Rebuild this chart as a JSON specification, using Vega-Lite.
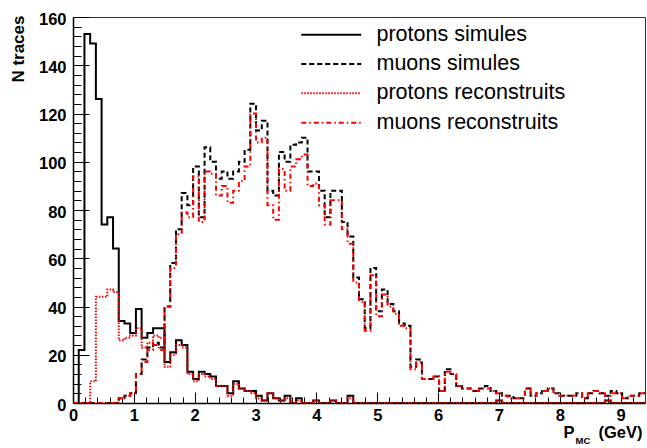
{
 "$schema": "https://vega.github.io/schema/vega-lite/v6.json",
 "width": 572, "height": 386,
 "autosize": {"type": "none"},
 "padding": {"left": 73, "top": 17, "right": 2, "bottom": 45},
 "background": "white",
 "config": {"view": {"stroke": "#333333", "strokeWidth": 1}, "font": "Liberation Sans"},
 "data": {"values": [
  {"P":0,"ps":0,"ms":0,"pr":0,"mr":0},
  {"P":0.094,"ps":22,"ms":0,"pr":0,"mr":0},
  {"P":0.188,"ps":153,"ms":0,"pr":0,"mr":0},
  {"P":0.282,"ps":149,"ms":0,"pr":9,"mr":0},
  {"P":0.376,"ps":126,"ms":0,"pr":44,"mr":0},
  {"P":0.47,"ps":74,"ms":0,"pr":44,"mr":0},
  {"P":0.564,"ps":77,"ms":0,"pr":47,"mr":0},
  {"P":0.658,"ps":64,"ms":0,"pr":46,"mr":0},
  {"P":0.752,"ps":34,"ms":2,"pr":26,"mr":2},
  {"P":0.846,"ps":33,"ms":3,"pr":27,"mr":3},
  {"P":0.94,"ps":29,"ms":4,"pr":28,"mr":4},
  {"P":1.034,"ps":39,"ms":12,"pr":31,"mr":12},
  {"P":1.128,"ps":27,"ms":18,"pr":23,"mr":17},
  {"P":1.222,"ps":29,"ms":23,"pr":25,"mr":22},
  {"P":1.316,"ps":31,"ms":25,"pr":28,"mr":24},
  {"P":1.41,"ps":31,"ms":23,"pr":27,"mr":22},
  {"P":1.504,"ps":17,"ms":40,"pr":15,"mr":40},
  {"P":1.598,"ps":21,"ms":58,"pr":20,"mr":56},
  {"P":1.692,"ps":26,"ms":72,"pr":24,"mr":70},
  {"P":1.786,"ps":24,"ms":87,"pr":23,"mr":79},
  {"P":1.88,"ps":13,"ms":82,"pr":12,"mr":77},
  {"P":1.974,"ps":10,"ms":98,"pr":9,"mr":94},
  {"P":2.068,"ps":13,"ms":77,"pr":12,"mr":75},
  {"P":2.162,"ps":12,"ms":106,"pr":11,"mr":96},
  {"P":2.256,"ps":11,"ms":100,"pr":10,"mr":95},
  {"P":2.35,"ps":7,"ms":93,"pr":7,"mr":86},
  {"P":2.444,"ps":7,"ms":96,"pr":7,"mr":90},
  {"P":2.538,"ps":4,"ms":93,"pr":3,"mr":83},
  {"P":2.632,"ps":9,"ms":96,"pr":8,"mr":88},
  {"P":2.726,"ps":6,"ms":100,"pr":6,"mr":92},
  {"P":2.82,"ps":5,"ms":105,"pr":5,"mr":98},
  {"P":2.914,"ps":5,"ms":124,"pr":4,"mr":120},
  {"P":3.008,"ps":3,"ms":113,"pr":2,"mr":108},
  {"P":3.102,"ps":1,"ms":117,"pr":1,"mr":110},
  {"P":3.196,"ps":4,"ms":88,"pr":4,"mr":82},
  {"P":3.29,"ps":2,"ms":86,"pr":2,"mr":76},
  {"P":3.384,"ps":1,"ms":104,"pr":1,"mr":97},
  {"P":3.478,"ps":3,"ms":100,"pr":2,"mr":88},
  {"P":3.572,"ps":0,"ms":107,"pr":0,"mr":98},
  {"P":3.666,"ps":2,"ms":108,"pr":1,"mr":101},
  {"P":3.76,"ps":0,"ms":110,"pr":0,"mr":103},
  {"P":3.854,"ps":0,"ms":96,"pr":0,"mr":90},
  {"P":3.948,"ps":1,"ms":96,"pr":1,"mr":91},
  {"P":4.042,"ps":0,"ms":88,"pr":0,"mr":82},
  {"P":4.136,"ps":0,"ms":77,"pr":0,"mr":74},
  {"P":4.23,"ps":1,"ms":88,"pr":1,"mr":84},
  {"P":4.324,"ps":0,"ms":88,"pr":0,"mr":84},
  {"P":4.418,"ps":0,"ms":75,"pr":0,"mr":72},
  {"P":4.512,"ps":3,"ms":69,"pr":2,"mr":66},
  {"P":4.606,"ps":0,"ms":52,"pr":0,"mr":50},
  {"P":4.7,"ps":0,"ms":43,"pr":0,"mr":42},
  {"P":4.794,"ps":0,"ms":31,"pr":0,"mr":30},
  {"P":4.888,"ps":0,"ms":56,"pr":0,"mr":53},
  {"P":4.982,"ps":0,"ms":38,"pr":0,"mr":36},
  {"P":5.076,"ps":0,"ms":47,"pr":0,"mr":45},
  {"P":5.17,"ps":0,"ms":41,"pr":0,"mr":40},
  {"P":5.264,"ps":0,"ms":38,"pr":0,"mr":37},
  {"P":5.358,"ps":0,"ms":33,"pr":0,"mr":32},
  {"P":5.452,"ps":0,"ms":32,"pr":0,"mr":31},
  {"P":5.546,"ps":0,"ms":15,"pr":0,"mr":14},
  {"P":5.64,"ps":0,"ms":18,"pr":0,"mr":17},
  {"P":5.734,"ps":0,"ms":10,"pr":0,"mr":10},
  {"P":5.828,"ps":0,"ms":10,"pr":0,"mr":10},
  {"P":5.922,"ps":0,"ms":11,"pr":0,"mr":11},
  {"P":6.016,"ps":0,"ms":5,"pr":0,"mr":5},
  {"P":6.11,"ps":0,"ms":14,"pr":0,"mr":13},
  {"P":6.204,"ps":0,"ms":12,"pr":0,"mr":12},
  {"P":6.298,"ps":0,"ms":7,"pr":0,"mr":7},
  {"P":6.392,"ps":0,"ms":6,"pr":0,"mr":6},
  {"P":6.486,"ps":0,"ms":6,"pr":0,"mr":6},
  {"P":6.58,"ps":0,"ms":5,"pr":0,"mr":5},
  {"P":6.674,"ps":0,"ms":6,"pr":0,"mr":6},
  {"P":6.768,"ps":0,"ms":7,"pr":0,"mr":6},
  {"P":6.862,"ps":0,"ms":5,"pr":0,"mr":5},
  {"P":6.956,"ps":1,"ms":4,"pr":1,"mr":4},
  {"P":7.05,"ps":0,"ms":3,"pr":0,"mr":3},
  {"P":7.144,"ps":0,"ms":3,"pr":0,"mr":2},
  {"P":7.238,"ps":0,"ms":2,"pr":0,"mr":2},
  {"P":7.332,"ps":0,"ms":2,"pr":0,"mr":2},
  {"P":7.426,"ps":0,"ms":6,"pr":0,"mr":6},
  {"P":7.52,"ps":0,"ms":3,"pr":0,"mr":3},
  {"P":7.614,"ps":0,"ms":4,"pr":0,"mr":4},
  {"P":7.708,"ps":0,"ms":5,"pr":0,"mr":5},
  {"P":7.802,"ps":0,"ms":6,"pr":0,"mr":6},
  {"P":7.896,"ps":0,"ms":4,"pr":0,"mr":4},
  {"P":7.99,"ps":0,"ms":3,"pr":0,"mr":3},
  {"P":8.084,"ps":0,"ms":3,"pr":0,"mr":3},
  {"P":8.178,"ps":0,"ms":3,"pr":0,"mr":3},
  {"P":8.272,"ps":0,"ms":4,"pr":0,"mr":4},
  {"P":8.366,"ps":0,"ms":2,"pr":0,"mr":2},
  {"P":8.46,"ps":0,"ms":4,"pr":0,"mr":4},
  {"P":8.554,"ps":0,"ms":5,"pr":0,"mr":5},
  {"P":8.648,"ps":0,"ms":4,"pr":0,"mr":4},
  {"P":8.742,"ps":1,"ms":3,"pr":1,"mr":3},
  {"P":8.836,"ps":0,"ms":5,"pr":0,"mr":4},
  {"P":8.93,"ps":0,"ms":4,"pr":0,"mr":4},
  {"P":9.024,"ps":0,"ms":2,"pr":0,"mr":2},
  {"P":9.118,"ps":0,"ms":3,"pr":0,"mr":3},
  {"P":9.212,"ps":0,"ms":3,"pr":0,"mr":3},
  {"P":9.306,"ps":0,"ms":4,"pr":0,"mr":4},
  {"P":9.4,"ps":0,"ms":4,"pr":0,"mr":4}
 ]},
 "transform": [{"fold": ["ps", "ms", "pr", "mr"], "as": ["key", "n"]}],
 "layer": [
  {
   "mark": {"type": "line", "interpolate": "step-after", "strokeWidth": 2, "clip": true},
   "encoding": {
    "x": {"field": "P", "type": "quantitative",
      "scale": {"domain": [0, 9.4], "nice": false, "zero": false},
      "axis": {"orient": "bottom", "values": [0,1,2,3,4,5,6,7,8,9], "grid": false,
        "tickSize": -11, "tickColor": "black", "tickWidth": 1,
        "domainColor": "black", "domainWidth": 1.5,
        "labelFont": "Liberation Sans", "labelFontWeight": "bold", "labelFontSize": 16.5, "labelColor": "black",
        "labelPadding": 15, "labelFlush": false, "labelOverlap": false, "labelBaseline": "top",
        "title": "P", "titleFont": "Liberation Sans", "titleFontWeight": "bold", "titleFontSize": 16.5, "titleColor": "black",
        "titleX": 490, "titleY": 34, "titleAlign": "left", "titleBaseline": "alphabetic"}},
    "y": {"field": "n", "type": "quantitative",
      "scale": {"domain": [0, 160], "nice": false},
      "axis": {"orient": "left", "values": [0,20,40,60,80,100,120,140,160], "grid": false,
        "tickSize": -16, "tickColor": "black", "tickWidth": 1,
        "domainColor": "black", "domainWidth": 1.5,
        "labelFont": "Liberation Sans", "labelFontWeight": "bold", "labelFontSize": 16.5, "labelColor": "black",
        "labelPadding": 23, "labelOffset": 2, "labelOverlap": false, "labelFlush": false,
        "title": "N traces", "titleFont": "Liberation Sans", "titleFontWeight": "bold", "titleFontSize": 17, "titleColor": "black",
        "titleAngle": -90, "titleX": -50, "titleY": -2, "titleAlign": "right", "titleBaseline": "alphabetic"}},
    "color": {"field": "key", "type": "nominal",
      "scale": {"domain": ["ps", "ms", "pr", "mr"], "range": ["#000000", "#000000", "#ff0000", "#ff0000"]},
      "legend": {"title": null, "orient": "none", "legendX": 247.5, "legendY": 7, "padding": 0, "direction": "vertical",
        "symbolType": "M-12,0H12", "symbolSize": 25, "symbolStrokeWidth": 2,
        "labelFont": "Liberation Sans", "labelFontSize": 21.5, "labelColor": "black", "labelLimit": 400,
        "labelOffset": 34.5, "rowPadding": 6.3,
        "labelExpr": "{'ps': 'protons simules', 'ms': 'muons simules', 'pr': 'protons reconstruits', 'mr': 'muons reconstruits'}[datum.label]"}},
    "strokeDash": {"field": "key", "type": "nominal",
      "scale": {"domain": ["ps", "ms", "pr", "mr"], "range": [[1, 0], [5, 3], [1.5, 1.5], [5, 3, 1.5, 3]]},
      "legend": {"title": null, "orient": "none", "legendX": 247.5, "legendY": 7, "padding": 0, "direction": "vertical",
        "symbolType": "M-12,0H12", "symbolSize": 25, "symbolStrokeWidth": 2,
        "labelFont": "Liberation Sans", "labelFontSize": 21.5, "labelColor": "black", "labelLimit": 400,
        "labelOffset": 34.5, "rowPadding": 6.3,
        "labelExpr": "{'ps': 'protons simules', 'ms': 'muons simules', 'pr': 'protons reconstruits', 'mr': 'muons reconstruits'}[datum.label]"}}
   }
  },
  {
   "mark": {"type": "point", "opacity": 0},
   "encoding": {
    "x": {"field": "P", "type": "quantitative",
      "scale": {"domain": [0, 9.4], "nice": false, "zero": false},
      "axis": {"orient": "bottom", "values": [0.2,0.4,0.6,0.8,1.2,1.4,1.6,1.8,2.2,2.4,2.6,2.8,3.2,3.4,3.6,3.8,4.2,4.4,4.6,4.8,5.2,5.4,5.6,5.8,6.2,6.4,6.6,6.8,7.2,7.4,7.6,7.8,8.2,8.4,8.6,8.8,9.2],
        "grid": false, "tickSize": -6, "tickColor": "black", "tickWidth": 1, "domain": false, "labels": false,
        "title": "MC", "titleFont": "Liberation Sans", "titleFontWeight": "bold", "titleFontSize": 9.5, "titleColor": "black",
        "titleX": 502, "titleY": 40, "titleAlign": "left", "titleBaseline": "alphabetic"}},
    "y": {"field": "n", "type": "quantitative",
      "scale": {"domain": [0, 160], "nice": false},
      "axis": {"orient": "left", "values": [4,8,12,16,24,28,32,36,44,48,52,56,64,68,72,76,84,88,92,96,104,108,112,116,124,128,132,136,144,148,152,156],
        "grid": false, "tickSize": -8, "tickColor": "black", "tickWidth": 1, "domain": false, "labels": false, "title": null}}
   }
  },
  {
   "mark": {"type": "point", "opacity": 0},
   "encoding": {
    "x": {"field": "P", "type": "quantitative",
      "scale": {"domain": [0, 9.4], "nice": false, "zero": false},
      "axis": {"orient": "bottom", "ticks": false, "domain": false, "labels": false, "grid": false,
        "title": "(GeV)", "titleFont": "Liberation Sans", "titleFontWeight": "bold", "titleFontSize": 16.5, "titleColor": "black",
        "titleX": 569, "titleY": 34, "titleAlign": "right", "titleBaseline": "alphabetic"}},
    "y": {"field": "n", "type": "quantitative",
      "scale": {"domain": [0, 160], "nice": false},
      "axis": null}
   }
  }
 ],
 "resolve": {"axis": {"x": "independent", "y": "independent"}}
}
